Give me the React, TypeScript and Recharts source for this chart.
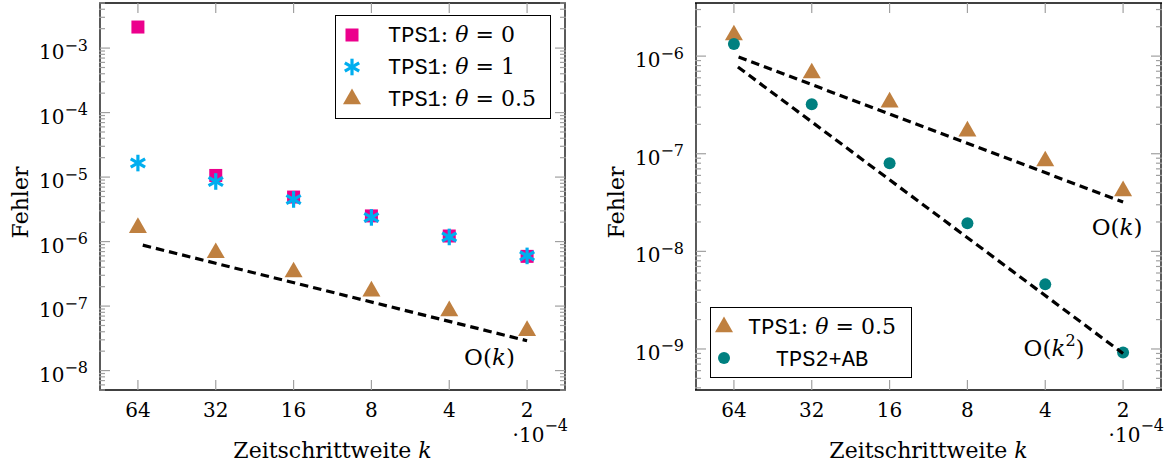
import React from "react";
import { ScatterChart, Scatter, XAxis, YAxis, Legend, ReferenceDot } from "recharts";

// step size k (x 1e-4), shared by all series
const kValues = [64, 32, 16, 8, 4, 2];
const kTicks = [64, 32, 16, 8, 4, 2];
const xDomain = [1.4142, 90.51];

// left plot
const tps1Theta0 = [2.12e-3, 1.06e-5, 4.9e-6, 2.5e-6, 1.22e-6, 5.9e-7];
const tps1Theta1 = [1.65e-5, 8.55e-6, 4.5e-6, 2.37e-6, 1.18e-6, 6.0e-7];
const tps1Theta05 = [1.64e-6, 6.7e-7, 3.37e-7, 1.7e-7, 8.4e-8, 4.15e-8];
const leftYDomain = [5e-9, 5e-3];
const leftYTicks = [1e-8, 1e-7, 1e-6, 1e-5, 1e-4, 1e-3];

// right plot
const tps2ab = [1.33e-6, 3.22e-7, 7.98e-8, 1.94e-8, 4.59e-9, 9.2e-10];
const rightYDomain = [3.8e-10, 3.5e-6];
const rightYTicks = [1e-9, 1e-8, 1e-7, 1e-6];

// reference slopes
const refK = [64, 2];
const orderKLeft = [9.2e-7, 2.9e-8];
const orderKRight = [1.02e-6, 3.2e-8];
const orderK2Right = [8.3e-7, 9.0e-10];

const legendOrder = ["TPS1: θ = 0", "TPS1: θ = 1", "TPS1: θ = 0.5", "TPS2+AB"];

const SERIF = "'DejaVu Serif', serif";
const MONO = "'Liberation Mono', 'Courier New', Courier, Cousine, monospace";
const PINK = "#EC008C";
const CYAN = "#00AEEF";
const BROWN = "#BF8040";
const TEAL = "#008080";
const TICK = "#a0a0a0";

const toPoints = (xs: number[], ys: number[]) => xs.map((k, i) => ({ k, err: ys[i] }));

function minorTicks(domain: number[]) {
  const out: number[] = [];
  const lo = Math.floor(Math.log10(domain[0]));
  const hi = Math.ceil(Math.log10(domain[1]));
  for (let e = lo; e <= hi; e++) {
    for (let m = 2; m <= 9; m++) {
      const v = m * Math.pow(10, e);
      if (v >= domain[0] && v <= domain[1]) out.push(v);
    }
  }
  return out;
}

function Marker({ type, cx, cy, fill }: any) {
  if (type === "square") return <rect x={cx - 6.5} y={cy - 6.5} width={13} height={13} fill={fill} />;
  if (type === "star") {
    const r = 8.3;
    const c = r * 0.866;
    const h = r * 0.5;
    return (
      <g stroke={fill} strokeWidth={3.2}>
        <line x1={cx} y1={cy - r} x2={cx} y2={cy + r} />
        <line x1={cx - c} y1={cy - h} x2={cx + c} y2={cy + h} />
        <line x1={cx - c} y1={cy + h} x2={cx + c} y2={cy - h} />
      </g>
    );
  }
  if (type === "triangle") {
    const r = 10.4;
    return (
      <polygon
        points={`${cx},${cy - r} ${cx - 0.866 * r},${cy + 0.5 * r} ${cx + 0.866 * r},${cy + 0.5 * r}`}
        fill={fill}
      />
    );
  }
  if (type === "circle") return <circle cx={cx} cy={cy} r={6} fill={fill} />;
  return <g />;
}

const shapeOf = (type: string) => (p: any) => <Marker type={type} cx={p.cx} cy={p.cy} fill={p.fill} />;
const noShape = () => <g />;
const EmptyTick = () => <g />;

function PowerTick({ x, y, payload }: any) {
  const exp = Math.round(Math.log10(payload.value));
  return (
    <text x={x} y={y + 11} textAnchor="end" fontFamily={SERIF} fontSize={20} fill="#000">
      10
      <tspan dy={-8.5} fontSize={16}>{`−${Math.abs(exp)}`}</tspan>
    </text>
  );
}

function KTick({ x, y, payload }: any) {
  return (
    <text x={x} y={y + 26.7} textAnchor="middle" fontFamily={SERIF} fontSize={20} fill="#000">
      {payload.value}
    </text>
  );
}

function XTitle({ viewBox }: any) {
  const vb = viewBox || { x: 0, y: 0, width: 0 };
  return (
    <g fontFamily={SERIF} fill="#000">
      <text x={vb.x + vb.width / 2} y={vb.y + 68} textAnchor="middle" fontSize={22}>
        Zeitschrittweite <tspan fontStyle="italic">k</tspan>
      </text>
      <text x={vb.x + vb.width + 2} y={vb.y + 52} textAnchor="end" fontSize={20}>
        ·10
        <tspan dy={-11} fontSize={16}>−4</tspan>
      </text>
    </g>
  );
}

function YTitle({ viewBox }: any) {
  const vb = viewBox || { x: 0, y: 0, height: 0 };
  const x = vb.x - 70;
  const y = vb.y + vb.height / 2 + 6;
  return (
    <text x={x} y={y} transform={`rotate(-90 ${x} ${y})`} textAnchor="middle" fontFamily={SERIF} fontSize={22} fill="#000">
      Fehler
    </text>
  );
}

const orderLabel = (dx: number, dy: number, squared: boolean) => ({ viewBox }: any) => {
  const vb = viewBox || { x: 0, y: 0 };
  return (
    <text x={vb.x + dx} y={vb.y + dy} textAnchor="middle" fontFamily={SERIF} fontSize={23} fill="#000">
      O(<tspan fontStyle="italic">k</tspan>
      {squared ? <tspan dy={-10} fontSize={16}>2</tspan> : null}
      {squared ? <tspan dy={10}>)</tspan> : ")"}
    </text>
  );
};

function LegendName({ name }: { name: string }) {
  const idx = name.indexOf(":");
  if (idx < 0) return <span style={{ fontFamily: MONO }}>{name}</span>;
  const rest = name.slice(idx + 1).split("θ");
  return (
    <span style={{ whiteSpace: "pre" }}>
      <span style={{ fontFamily: MONO }}>{name.slice(0, idx)}</span>
      <span style={{ fontFamily: SERIF, fontSize: 22 }}>
        :{rest[0]}
        <i>θ</i>
        {rest[1]}
      </span>
    </span>
  );
}

const sortKey = (it: any) => legendOrder.indexOf(it.value);

const makeLegend = (opts: { width: number; rowH: number; markerX: number; textX: number; textRight: number; align: "left" | "center" }) =>
  (props: any) => {
    const items = (props.payload || [])
      .filter((p: any) => p.type !== "none")
      .slice()
      .sort((a: any, b: any) => sortKey(a) - sortKey(b));
    return (
      <div
        style={{
          width: opts.width,
          boxSizing: "border-box",
          border: "1.3px solid #000",
          background: "#fff",
          padding: "3px 0",
        }}
      >
        {items.map((it: any) => (
          <div key={it.value} style={{ position: "relative", height: opts.rowH }}>
            <svg width={24} height={24} style={{ position: "absolute", left: opts.markerX - 12, top: opts.rowH / 2 - 12 }}>
              <Marker type={it.type} cx={12} cy={12} fill={it.color} />
            </svg>
            <div
              style={{
                position: "absolute",
                left: opts.textX,
                right: opts.textRight,
                top: 0,
                lineHeight: `${opts.rowH}px`,
                textAlign: opts.align,
                fontSize: 22,
                color: "#000",
                whiteSpace: "nowrap",
              }}
            >
              <LegendName name={it.value} />
            </div>
          </div>
        ))}
      </div>
    );
  };

function LogPanel({
  width,
  marginLeft,
  yDomain,
  yTicks,
  children,
}: {
  width: number;
  marginLeft: number;
  yDomain: number[];
  yTicks: number[];
  children: React.ReactNode;
}) {
  const minor = minorTicks(yDomain);
  const frame = { stroke: "#000", strokeWidth: 1.3 };
  const tickLine = { stroke: TICK, strokeWidth: 1.2 };
  return (
    <ScatterChart width={width} height={467} margin={{ top: 3, right: 14, bottom: 76, left: marginLeft - 1 }}>
      <XAxis
        xAxisId="xbt"
        dataKey="k"
        type="number"
        scale="log"
        domain={xDomain}
        allowDataOverflow
        reversed
        ticks={kTicks}
        interval={0}
        height={1}
        mirror
        tick={<EmptyTick />}
        tickSize={10}
        tickLine={tickLine}
        axisLine={frame}
      />
      <XAxis
        xAxisId="xt"
        orientation="top"
        dataKey="k"
        type="number"
        scale="log"
        domain={xDomain}
        allowDataOverflow
        reversed
        ticks={kTicks}
        interval={0}
        height={1}
        mirror
        tick={<EmptyTick />}
        tickSize={10}
        tickLine={tickLine}
        axisLine={frame}
      />
      <XAxis
        xAxisId="xb"
        dataKey="k"
        type="number"
        scale="log"
        domain={xDomain}
        allowDataOverflow
        reversed
        ticks={kTicks}
        interval={0}
        height={1}
        tickLine={false}
        axisLine={false}
        tickSize={0}
        tickMargin={0}
        tick={<KTick />}
        label={{ content: <XTitle /> }}
      />
      <YAxis
        yAxisId="ylt"
        type="number"
        scale="log"
        domain={yDomain}
        allowDataOverflow
        ticks={yTicks}
        interval={0}
        width={1}
        mirror
        tick={<EmptyTick />}
        tickSize={10}
        tickLine={tickLine}
        axisLine={frame}
      />
      <YAxis
        yAxisId="ylm"
        type="number"
        scale="log"
        domain={yDomain}
        allowDataOverflow
        ticks={minor}
        interval={0}
        width={1}
        mirror
        tick={<EmptyTick />}
        tickSize={6}
        tickLine={tickLine}
        axisLine={false}
      />
      <YAxis
        yAxisId="yrt"
        orientation="right"
        type="number"
        scale="log"
        domain={yDomain}
        allowDataOverflow
        ticks={yTicks}
        interval={0}
        width={1}
        mirror
        tick={<EmptyTick />}
        tickSize={10}
        tickLine={tickLine}
        axisLine={frame}
      />
      <YAxis
        yAxisId="yrm"
        orientation="right"
        type="number"
        scale="log"
        domain={yDomain}
        allowDataOverflow
        ticks={minor}
        interval={0}
        width={1}
        mirror
        tick={<EmptyTick />}
        tickSize={6}
        tickLine={tickLine}
        axisLine={false}
      />
      <YAxis
        yAxisId="yl"
        dataKey="err"
        type="number"
        scale="log"
        domain={yDomain}
        allowDataOverflow
        ticks={yTicks}
        interval={0}
        width={1}
        tickLine={false}
        axisLine={false}
        tickSize={0}
        tickMargin={11}
        tick={<PowerTick />}
        label={{ content: <YTitle /> }}
      />
      {children}
    </ScatterChart>
  );
}

// gap first, so the dashes start a little right of k = 64 as in the reference
const dashed = { stroke: "#000", strokeWidth: 3.2, strokeDasharray: "8.5 5", strokeDashoffset: 8.5 };

export default function App() {
  return (
    <div style={{ position: "absolute", left: 0, top: 0, width: 1176, height: 467, background: "#fff" }}>
      <div style={{ position: "absolute", left: 0, top: 0 }}>
        <LogPanel width={580} marginLeft={99} yDomain={leftYDomain} yTicks={leftYTicks}>
          <Scatter
            name="TPS1: θ = 0"
            data={toPoints(kValues, tps1Theta0)}
            xAxisId="xb"
            yAxisId="yl"
            dataKey="err"
            fill={PINK}
            legendType="square"
            shape={shapeOf("square")}
            isAnimationActive={false}
          />
          <Scatter
            name="TPS1: θ = 1"
            data={toPoints(kValues, tps1Theta1)}
            xAxisId="xb"
            yAxisId="yl"
            dataKey="err"
            fill={CYAN}
            legendType="star"
            shape={shapeOf("star")}
            isAnimationActive={false}
          />
          <Scatter
            name="TPS1: θ = 0.5"
            data={toPoints(kValues, tps1Theta05)}
            xAxisId="xb"
            yAxisId="yl"
            dataKey="err"
            fill={BROWN}
            legendType="triangle"
            shape={shapeOf("triangle")}
            isAnimationActive={false}
          />
          <Scatter
            name="O(k) left"
            data={toPoints(refK, orderKLeft)}
            xAxisId="xb"
            yAxisId="yl"
            dataKey="err"
            fill="#000"
            legendType="none"
            line={dashed}
            shape={noShape}
            isAnimationActive={false}
          />
          <ReferenceDot
            xAxisId="xb"
            yAxisId="yl"
            x={refK[1]}
            y={orderKLeft[1]}
            r={0}
            stroke="none"
            label={{ content: orderLabel(-37.6, 24.3, false) }}
          />
          <Legend
            layout="vertical"
            align="center"
            verticalAlign="middle"
            itemSorter={sortKey}
            wrapperStyle={{ left: 335, top: 15 }}
            content={makeLegend({ width: 216, rowH: 32, markerX: 16, textX: 52, textRight: 4, align: "left" })}
          />
        </LogPanel>
      </div>
      <div style={{ position: "absolute", left: 600, top: 0 }}>
        <LogPanel width={576} marginLeft={95} yDomain={rightYDomain} yTicks={rightYTicks}>
          <Scatter
            name="TPS1: θ = 0.5"
            data={toPoints(kValues, tps1Theta05)}
            xAxisId="xb"
            yAxisId="yl"
            dataKey="err"
            fill={BROWN}
            legendType="triangle"
            shape={shapeOf("triangle")}
            isAnimationActive={false}
          />
          <Scatter
            name="TPS2+AB"
            data={toPoints(kValues, tps2ab)}
            xAxisId="xb"
            yAxisId="yl"
            dataKey="err"
            fill={TEAL}
            legendType="circle"
            shape={shapeOf("circle")}
            isAnimationActive={false}
          />
          <Scatter
            name="O(k) right"
            data={toPoints(refK, orderKRight)}
            xAxisId="xb"
            yAxisId="yl"
            dataKey="err"
            fill="#000"
            legendType="none"
            line={dashed}
            shape={noShape}
            isAnimationActive={false}
          />
          <Scatter
            name="O(k^2) right"
            data={toPoints(refK, orderK2Right)}
            xAxisId="xb"
            yAxisId="yl"
            dataKey="err"
            fill="#000"
            legendType="none"
            line={dashed}
            shape={noShape}
            isAnimationActive={false}
          />
          <ReferenceDot
            xAxisId="xb"
            yAxisId="yl"
            x={refK[1]}
            y={orderKRight[1]}
            r={0}
            stroke="none"
            label={{ content: orderLabel(-6, 32.5, false) }}
          />
          <ReferenceDot
            xAxisId="xb"
            yAxisId="yl"
            x={refK[1]}
            y={orderK2Right[1]}
            r={0}
            stroke="none"
            label={{ content: orderLabel(-69, 2.7, true) }}
          />
          <Legend
            layout="vertical"
            align="center"
            verticalAlign="middle"
            itemSorter={sortKey}
            wrapperStyle={{ left: 110, top: 307 }}
            content={makeLegend({ width: 202, rowH: 31.6, markerX: 13, textX: 30, textRight: 8, align: "center" })}
          />
        </LogPanel>
      </div>
    </div>
  );
}
